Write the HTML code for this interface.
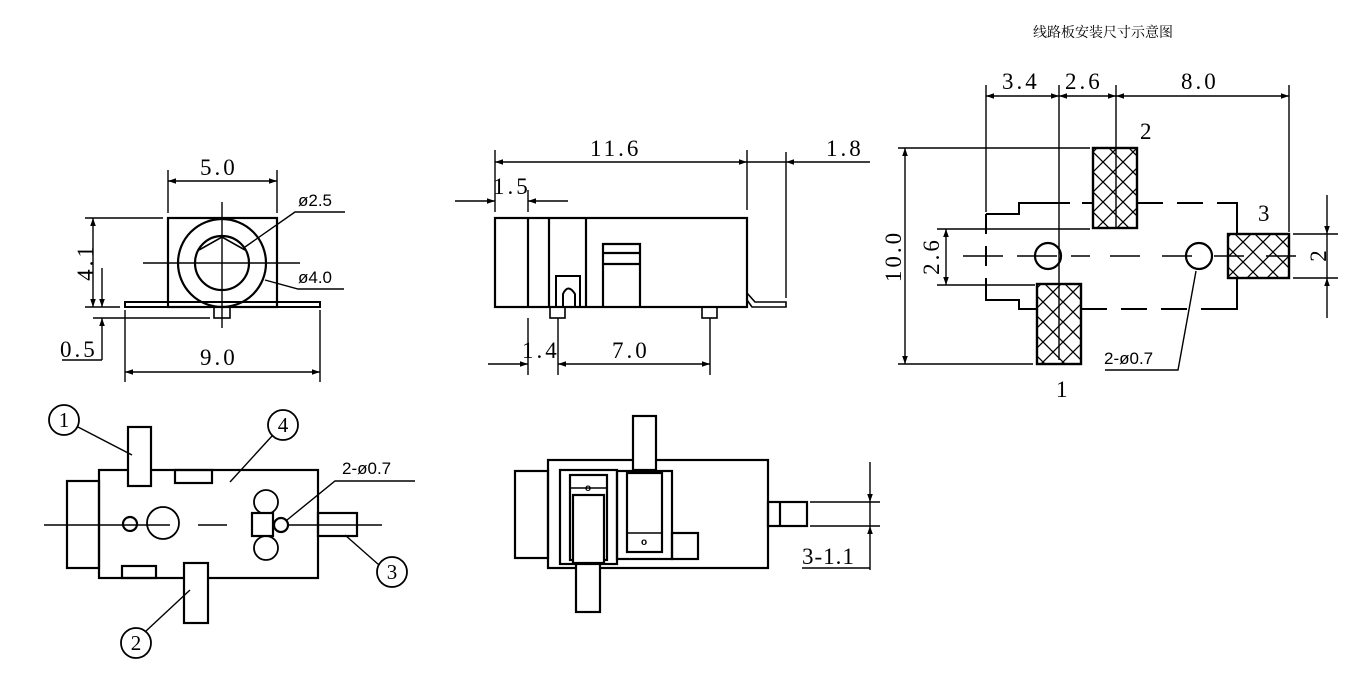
<!DOCTYPE html>
<html><head><meta charset="utf-8"><style>
html,body{margin:0;padding:0;background:#fff}
svg{display:block}
.d{font-family:"Liberation Serif",serif;font-size:23px;letter-spacing:3px}
.s{font-family:"Liberation Sans",sans-serif;font-size:17px}
</style></head><body>
<svg width="1356" height="684" viewBox="0 0 1356 684" xmlns="http://www.w3.org/2000/svg">
<defs>
<marker id="a" viewBox="0 0 10 10" refX="10" refY="5" markerWidth="16" markerHeight="8" markerUnits="userSpaceOnUse" orient="auto-start-reverse"><path d="M0,1.5 L10,5 L0,8.5z" fill="#000"/></marker>
<pattern id="h" width="20" height="20" patternUnits="userSpaceOnUse" x="3" y="2"><path d="M0,0 L20,20 M20,0 L0,20" stroke="#000" stroke-width="1.3"/></pattern>
</defs>
<g fill="none" stroke="#000" stroke-width="1.4">
<!-- View 1 front -->
<rect x="168" y="218" width="109" height="89" stroke-width="2.2"/>
<rect x="125" y="302" width="195" height="5" stroke-width="2"/>
<circle cx="222" cy="263" r="44" stroke-width="2.2"/>
<circle cx="222" cy="263" r="27" stroke-width="2.2"/>
<path d="M199,250 L222,237 L245,250" stroke-width="1.6"/>
<rect x="214" y="307" width="16" height="11" stroke-width="1.6"/>
<line x1="222" y1="202" x2="222" y2="328"/><line x1="143" y1="263" x2="300" y2="263"/>
<line x1="168" y1="170" x2="168" y2="213"/><line x1="277" y1="170" x2="277" y2="213"/>
<line x1="168" y1="181" x2="277" y2="181" marker-start="url(#a)" marker-end="url(#a)"/>
<line x1="85" y1="218" x2="163" y2="218"/><line x1="85" y1="307" x2="120" y2="307"/><line x1="93" y1="318" x2="210" y2="318"/>
<line x1="93" y1="218" x2="93" y2="307" marker-start="url(#a)" marker-end="url(#a)"/>
<line x1="102" y1="268" x2="102" y2="307" marker-end="url(#a)"/>
<line x1="102" y1="360" x2="102" y2="318" marker-end="url(#a)"/>
<line x1="62" y1="360" x2="102" y2="360"/>
<line x1="125" y1="310" x2="125" y2="382"/><line x1="320" y1="310" x2="320" y2="382"/>
<line x1="125" y1="372" x2="320" y2="372" marker-start="url(#a)" marker-end="url(#a)"/>
<path d="M245,247 L295,212 L345,212"/>
<path d="M265,280 L298,289 L344,289"/>
<!-- View 2 side -->
<rect x="495" y="218" width="252" height="89" stroke-width="2.2"/>
<line x1="528" y1="218" x2="528" y2="307" stroke-width="2.2"/>
<line x1="549" y1="218" x2="549" y2="307" stroke-width="2.2"/>
<line x1="586" y1="218" x2="586" y2="307" stroke-width="2.2"/>
<path d="M603,307 V244 H640 V307 M603,253 H640 M603,264 H640" stroke-width="2.2"/>
<path d="M556,307 V276 H580 V307 H575 V294 Q568,283 563,294 V307 Z" stroke-width="2"/>
<rect x="550" y="307" width="15" height="11" stroke-width="1.6"/>
<rect x="702" y="307" width="15" height="11" stroke-width="1.6"/>
<path d="M747,293 L755,302 H786 V307 H752 L747,300" stroke-width="1.6"/>
<line x1="495" y1="150" x2="495" y2="212"/><line x1="747" y1="150" x2="747" y2="210"/><line x1="786" y1="152" x2="786" y2="298"/>
<line x1="495" y1="162" x2="747" y2="162" marker-start="url(#a)" marker-end="url(#a)"/>
<line x1="747" y1="162" x2="786" y2="162"/>
<line x1="870" y1="162" x2="786" y2="162" marker-end="url(#a)"/>
<line x1="455" y1="201" x2="495" y2="201" marker-end="url(#a)"/>
<line x1="568" y1="201" x2="528" y2="201" marker-end="url(#a)"/>
<line x1="528" y1="190" x2="528" y2="212"/>
<line x1="528" y1="318" x2="528" y2="375"/><line x1="558" y1="318" x2="558" y2="375"/><line x1="710" y1="318" x2="710" y2="375"/>
<line x1="488" y1="364" x2="528" y2="364" marker-end="url(#a)"/>
<line x1="558" y1="364" x2="710" y2="364" marker-start="url(#a)" marker-end="url(#a)"/>
<!-- View 3 PCB -->
<rect x="1093" y="148" width="44" height="80" fill="url(#h)" stroke-width="2.4"/>
<rect x="1037" y="284" width="44" height="80" fill="url(#h)" stroke-width="2.4"/>
<rect x="1228" y="234" width="61" height="44" fill="url(#h)" stroke-width="2.4"/>
<circle cx="1048" cy="256" r="13" stroke-width="2.2"/><circle cx="1199" cy="256" r="13" stroke-width="2.2"/>
<line x1="963" y1="256" x2="1090" y2="256" stroke-dasharray="40,14"/>
<line x1="1110" y1="256" x2="1300" y2="256" stroke-dasharray="30,22"/>
<path d="M986,214 H1019 V203 H1050" stroke-width="2"/>
<line x1="1050" y1="203" x2="1093" y2="203" stroke-width="2" stroke-dasharray="20,12"/>
<line x1="1137" y1="203" x2="1237" y2="203" stroke-width="2" stroke-dasharray="26,14"/>
<path d="M1225,203 H1237 V234" stroke-width="2"/>
<path d="M986,284 V300 H1019 V309 H1037" stroke-width="2"/>
<line x1="1081" y1="309" x2="1237" y2="309" stroke-width="2" stroke-dasharray="26,14"/>
<path d="M1225,309 H1237 V278" stroke-width="2"/>
<line x1="986" y1="214" x2="986" y2="284" stroke-width="2" stroke-dasharray="20,12"/>
<line x1="986" y1="85" x2="986" y2="212"/><line x1="1059" y1="85" x2="1059" y2="360"/><line x1="1116" y1="85" x2="1116" y2="228"/><line x1="1289" y1="85" x2="1289" y2="232"/>
<line x1="986" y1="96" x2="1059" y2="96" marker-start="url(#a)" marker-end="url(#a)"/>
<line x1="1059" y1="96" x2="1116" y2="96" marker-start="url(#a)" marker-end="url(#a)"/>
<line x1="1116" y1="96" x2="1289" y2="96" marker-start="url(#a)" marker-end="url(#a)"/>
<line x1="898" y1="148" x2="1090" y2="148"/><line x1="898" y1="364" x2="1033" y2="364"/>
<line x1="905" y1="148" x2="905" y2="364" marker-start="url(#a)" marker-end="url(#a)"/>
<line x1="937" y1="229" x2="1090" y2="229"/><line x1="937" y1="285" x2="1035" y2="285"/>
<line x1="946" y1="229" x2="946" y2="285" marker-start="url(#a)" marker-end="url(#a)"/>
<line x1="1293" y1="234" x2="1338" y2="234"/><line x1="1293" y1="278" x2="1338" y2="278"/>
<line x1="1327" y1="195" x2="1327" y2="234" marker-end="url(#a)"/>
<line x1="1327" y1="318" x2="1327" y2="278" marker-end="url(#a)"/>
<line x1="1327" y1="234" x2="1327" y2="278"/>
<path d="M1196,271 L1178,370 H1105"/>
<!-- View 4 top -->
<rect x="99" y="470" width="219" height="108" stroke-width="2.2"/>
<rect x="67" y="481" width="32" height="87" stroke-width="2.2"/>
<rect x="128" y="427" width="23" height="59" fill="#fff" stroke-width="2.2"/>
<rect x="184" y="563" width="24" height="60" fill="#fff" stroke-width="2.2"/>
<rect x="175" y="470" width="37" height="13" stroke-width="2.2"/>
<rect x="122" y="566" width="34" height="12" stroke-width="2.2"/>
<line x1="44" y1="525" x2="170" y2="525"/><line x1="198" y1="525" x2="227" y2="525"/><line x1="252" y1="525" x2="382" y2="525"/>
<circle cx="130" cy="524" r="7" stroke-width="2.2"/><circle cx="163" cy="523" r="16" stroke-width="1.8"/>
<circle cx="266" cy="502" r="12" stroke-width="1.8"/><circle cx="266" cy="548" r="12" stroke-width="1.8"/>
<rect x="252" y="513" width="21" height="23" fill="#fff" stroke-width="2.2"/>
<circle cx="281" cy="525" r="7" fill="#fff" stroke-width="2.2"/>
<rect x="318" y="513" width="39" height="23" stroke-width="2.2"/>
<circle cx="64" cy="420" r="15" stroke-width="1.8"/><circle cx="283" cy="425" r="15" stroke-width="1.8"/>
<circle cx="392" cy="572" r="15" stroke-width="1.8"/><circle cx="136" cy="643" r="15" stroke-width="1.8"/>
<line x1="78" y1="427" x2="132" y2="455"/><line x1="272" y1="436" x2="230" y2="482"/>
<line x1="379" y1="565" x2="345" y2="535"/><line x1="146" y1="631" x2="190" y2="590"/>
<path d="M415,481 H335 L287,520"/>
<!-- View 5 bottom -->
<rect x="548" y="460" width="220" height="108" stroke-width="2.2"/>
<rect x="515" y="471" width="33" height="87" stroke-width="2.2"/>
<rect x="633" y="416" width="23" height="54" fill="#fff" stroke-width="2.2"/>
<rect x="576" y="563" width="24" height="49" fill="#fff" stroke-width="2.2"/>
<rect x="560" y="470" width="57" height="94" stroke-width="2.2"/>
<rect x="570" y="475" width="37" height="85" stroke-width="2.2"/>
<rect x="573" y="495" width="31" height="68" fill="#fff" stroke-width="2.2"/>
<line x1="570" y1="488" x2="607" y2="488"/>
<rect x="617" y="471" width="55" height="88" stroke-width="2.2"/>
<rect x="627" y="473" width="35" height="79" stroke-width="2.2"/>
<line x1="627" y1="533" x2="662" y2="533"/>
<rect x="672" y="533" width="26" height="26" stroke-width="2.2"/>
<rect x="768" y="502" width="39" height="24" stroke-width="2.2"/><line x1="780" y1="502" x2="780" y2="526" stroke-width="2.2"/>
<line x1="810" y1="502" x2="880" y2="502"/><line x1="810" y1="526" x2="880" y2="526"/>
<line x1="870" y1="462" x2="870" y2="502" marker-end="url(#a)"/>
<line x1="870" y1="570" x2="870" y2="526" marker-end="url(#a)"/>
<line x1="870" y1="502" x2="870" y2="526"/>
<line x1="802" y1="568" x2="870" y2="568"/>
</g>
<g fill="#000">
<text class="d" x="200" y="175">5.0</text>
<text class="s" x="298" y="206">ø2.5</text>
<text class="s" x="298" y="283">ø4.0</text>
<text class="d" transform="translate(93,262) rotate(-90)" text-anchor="middle">4.1</text>
<text class="d" x="60" y="357">0.5</text>
<text class="d" x="200" y="365">9.0</text>
<text class="d" x="590" y="156">11.6</text>
<text class="d" x="826" y="156">1.8</text>
<text class="d" x="493" y="194">1.5</text>
<text class="d" x="522" y="358">1.4</text>
<text class="d" x="612" y="358">7.0</text>
<text x="1103" y="37" font-family="'Liberation Serif','Noto Serif CJK SC',serif" font-size="14" text-anchor="middle">线路板安装尺寸示意图</text>
<text class="d" x="1002" y="89">3.4</text>
<text class="d" x="1065" y="89">2.6</text>
<text class="d" x="1181" y="89">8.0</text>
<text class="d" x="1140" y="139" style="letter-spacing:0">2</text>
<text class="d" x="1258" y="221" style="letter-spacing:0">3</text>
<text class="d" x="1056" y="397" style="letter-spacing:0">1</text>
<text class="d" transform="translate(901,256) rotate(-90)" text-anchor="middle">10.0</text>
<text class="d" transform="translate(939,256) rotate(-90)" text-anchor="middle">2.6</text>
<text class="d" transform="translate(1326,256) rotate(-90)" text-anchor="middle" style="letter-spacing:0">2</text>
<text class="s" x="1104" y="364">2-ø0.7</text>
<text class="s" x="342" y="474">2-ø0.7</text>
<text x="64" y="427" font-family="Liberation Serif,serif" font-size="21" text-anchor="middle">1</text>
<text x="283" y="432" font-family="Liberation Serif,serif" font-size="21" text-anchor="middle">4</text>
<text x="392" y="579" font-family="Liberation Serif,serif" font-size="21" text-anchor="middle">3</text>
<text x="136" y="650" font-family="Liberation Serif,serif" font-size="21" text-anchor="middle">2</text>
<text x="588" y="491" font-family="Liberation Sans,sans-serif" font-size="10" font-weight="bold" text-anchor="middle">o</text>
<text x="644" y="545" font-family="Liberation Sans,sans-serif" font-size="10" font-weight="bold" text-anchor="middle">o</text>
<text class="d" x="802" y="564" style="letter-spacing:1px">3-1.1</text>
</g>
</svg>
</body></html>
